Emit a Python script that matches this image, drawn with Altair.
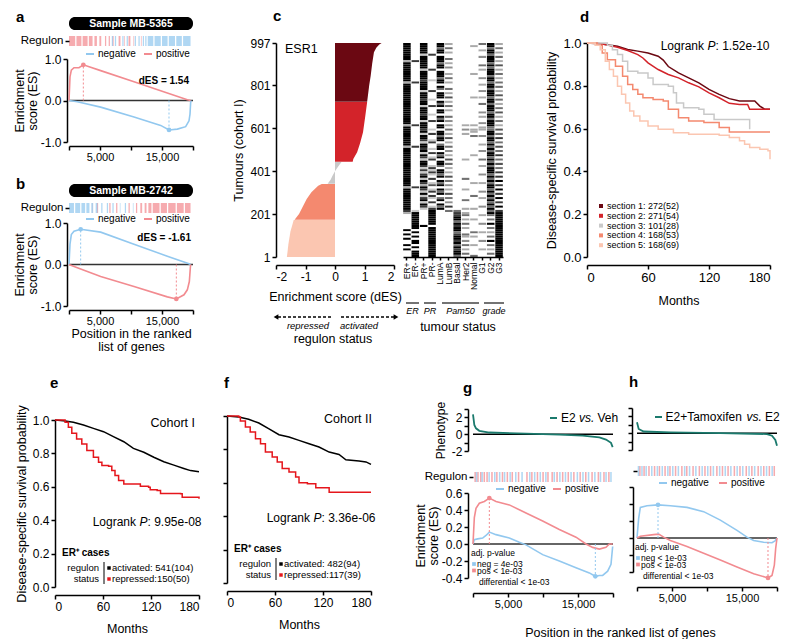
import altair as alt
import pandas as pd

FONT = "Liberation Sans"
RED = "#f28b90"
BLUE = "#92c8ef"
TEAL = "#1b7a6d"
KM_RED = "#e5161c"
SEC_NAMES = ["section 1: 272(52)", "section 2: 271(54)", "section 3: 101(28)",
             "section 4: 168(53)", "section 5: 168(69)"]
SEC_COLORS = ["#6b0812", "#d3232a", "#c9c9c9", "#f4896f", "#fbc6b1"]

# ---------------- panel a ----------------
a_neg_gene = [0, 1344, 5108, 10484, 14785, 16129, 17473, 18817, 19355, 19516, 19624, 19700]
a_neg_es = [0, -0.03, -0.16, -0.40, -0.60, -0.71, -0.69, -0.63, -0.49, -0.33, -0.04, 0.0]
a_pos_gene = [0, 161, 376, 806, 1613, 2312, 5108, 10484, 15860, 19086, 19624]
a_pos_es = [0, 0.57, 0.73, 0.79, 0.79, 0.86, 0.72, 0.45, 0.18, 0.02, 0.0]
a_neg_peak = (16129, -0.71)
a_pos_peak = (2312, 0.86)
a_strip_pos = [(0, 1.0), (1.2, 2.0), (2.2, 3.0), (3.2, 3.8), (4.1, 4.5), (4.9, 5.2), (5.8, 6.0),
               (6.4, 6.6), (7.0, 7.2), (8.0, 8.3), (8.9, 9.0), (9.6, 9.9), (10.4, 10.5), (11.6, 11.7)]
a_strip_neg = [(6.9, 7.1), (7.4, 7.6), (8.6, 8.8), (9.3, 9.5), (10.6, 10.8), (11.2, 11.4), (11.9, 12.1),
               (12.3, 12.5), (12.7, 13.6), (13.8, 14.8), (15.0, 15.9), (16.1, 17.1), (17.3, 18.2), (18.4, 19.6)]

# ---------------- panel b ----------------
b_neg_gene = [0, 161, 376, 806, 1882, 5108, 10484, 15860, 19355, 19624]
b_neg_es = [0, 0.49, 0.72, 0.80, 0.85, 0.78, 0.49, 0.20, 0.02, 0.0]
b_pos_gene = [0, 1344, 5108, 10484, 15860, 17312, 18548, 19086, 19409, 19570, 19624]
b_pos_es = [0, -0.08, -0.29, -0.53, -0.78, -0.83, -0.73, -0.61, -0.41, -0.08, 0.0]
b_neg_peak = (1882, 0.85)
b_pos_peak = (17312, -0.83)
b_strip_neg = [(0, 0.8), (1.0, 1.8), (2.0, 2.6), (2.8, 3.3), (3.6, 3.9), (4.3, 4.6), (5.2, 5.4),
               (6.1, 6.3), (7.0, 7.2), (8.2, 8.3), (9.0, 9.2), (10.3, 10.4)]
b_strip_pos = [(3.7, 3.8), (4.5, 4.7), (6.5, 6.7), (7.6, 7.8), (9.6, 9.8), (10.8, 11.0), (11.5, 11.8),
               (12.2, 12.5), (12.8, 13.3), (13.5, 14.6), (14.8, 15.8), (16.0, 17.2), (17.4, 18.5), (18.7, 19.6)]

# ---------------- panel c ----------------
c_sections = {
    SEC_NAMES[4]: ([1, 60, 120, 173], [-1.63, -1.58, -1.51, -1.40]),
    SEC_NAMES[3]: ([174, 201, 271, 302, 333, 341], [-1.37, -1.22, -0.96, -0.80, -0.57, -0.45]),
    SEC_NAMES[2]: ([342, 360, 380, 400, 410, 425, 443], [-0.25, -0.15, -0.08, 0.0, 0.05, 0.12, 0.22]),
    SEC_NAMES[1]: ([444, 457, 489, 530, 582, 650, 722], [0.60, 0.62, 0.75, 0.85, 0.95, 1.02, 1.09]),
    SEC_NAMES[0]: ([723, 800, 845, 900, 954, 975, 990, 997], [1.09, 1.16, 1.21, 1.26, 1.32, 1.40, 1.50, 1.58]),
}
HM_COLS = ["ER+", "ER-", "PR+", "PR-", "LumA", "LumB", "Basal", "Her2", "Normal", "G1", "G2", "G3"]
# shade per bin, top (tumour 997) to bottom (tumour 1); 0 white .. 9 black
HM = {
    "ER+": "99999999399999999939" "99999999999999999939" "99999999399999999999" "99999993999999999973" "00000009090900909000",
    "ER-": "00000000700000000070" "00000000000000000070" "00000000700000000000" "00000007000000000029" "99999990909099090999",
    "PR+": "99999299999929999799" "99299979929997992999" "79299729979297299727" "27929739729279297200" "00000900000000000000",
    "PR-": "00000700000070000200" "00700020070002007000" "20700270020702700272" "72070260270720702799" "99999099999999999999",
    "LumA": "99599099959909995990" "95099909590990959099" "09959905990959099509" "95909590959059095900" "00000000000000000000",
    "LumB": "30503005030400305030" "05030603050300504030" "50306030504030605030" "30605040306050407050" "00000000000000000000",
    "Basal": "00000000000000000000" "00000000000000000000" "00000000000000000000" "00000000000000000057" "79959799579979597995",
    "Her2": "00000000000000000000" "00000000000000000030" "40300000000000300000" "00050000300005000303" "50305030053040503050",
    "Normal": "03000000000000300000" "00000300000000000030" "33050000000030000000" "00000300000500000300" "00300000503000300005",
    "G1": "50030040005030004003" "00400300500040300403" "30040003004000500300" "04000300040030004000" "30004000300040003000",
    "G2": "99599599959599959959" "95999599599959959995" "59959959595995959599" "95959599595959595959" "50509050305090503050",
    "G3": "30503050306030503050" "50306050305060305030" "60507050605070506050" "70709070907090709079" "99999999999999999999",
}

# ---------------- panel d ----------------
d_curves = [
    (SEC_NAMES[0], [0, 15, 30, 40, 50, 60, 70, 75, 80, 90, 100, 110, 120, 130, 140, 150, 165, 170, 175, 180],
     [1.0, 0.995, 0.985, 0.97, 0.962, 0.953, 0.938, 0.92, 0.89, 0.86, 0.837, 0.814, 0.783, 0.76, 0.74, 0.729, 0.729, 0.705, 0.69, 0.69], "linear"),
    (SEC_NAMES[1], [0, 10, 20, 30, 40, 50, 55, 60, 70, 80, 90, 100, 110, 120, 130, 140, 150, 158, 160, 180],
     [1.0, 1.0, 0.99, 0.98, 0.965, 0.946, 0.93, 0.907, 0.876, 0.853, 0.837, 0.814, 0.795, 0.767, 0.744, 0.718, 0.713, 0.713, 0.69, 0.69], "linear"),
    (SEC_NAMES[2], [0, 20, 25, 30, 35, 40, 50, 60, 65, 80, 85, 88, 95, 110, 115, 125, 159, 160],
     [1.0, 0.99, 0.969, 0.946, 0.915, 0.868, 0.86, 0.837, 0.806, 0.798, 0.767, 0.72, 0.698, 0.69, 0.667, 0.643, 0.643, 0.597], "step-after"),
    (SEC_NAMES[3], [0, 10, 15, 20, 28, 35, 40, 45, 50, 55, 65, 75, 80, 90, 100, 115, 130, 140, 180],
     [1.0, 0.99, 0.953, 0.922, 0.891, 0.845, 0.806, 0.783, 0.76, 0.744, 0.736, 0.729, 0.69, 0.651, 0.636, 0.628, 0.605, 0.584, 0.584], "step-after"),
    (SEC_NAMES[4], [0, 8, 13, 18, 22, 26, 30, 34, 38, 42, 46, 52, 60, 70, 85, 100, 130, 140, 150, 155, 160, 170, 178, 180],
     [1.0, 0.99, 0.969, 0.915, 0.876, 0.845, 0.798, 0.76, 0.72, 0.682, 0.659, 0.636, 0.612, 0.597, 0.581, 0.574, 0.569, 0.558, 0.543, 0.527, 0.512, 0.504, 0.496, 0.457], "step-after"),
]

# ---------------- panels e, f ----------------
e_curves = [
    ("activated", [0, 10.5, 23, 35.6, 48, 60.7, 73, 86, 98, 111, 123.5, 136, 148.6, 161, 169.5, 180],
     [1.0, 0.996, 0.986, 0.97, 0.95, 0.93, 0.90, 0.87, 0.83, 0.807, 0.777, 0.75, 0.73, 0.71, 0.697, 0.69], "linear"),
    ("repressed", [0, 10.5, 12.6, 16.7, 21, 27, 33.5, 39.8, 48, 54.4, 58.6, 67, 71, 75, 79.5, 86, 102.6, 106.7, 117, 119, 127.7, 131.9, 157, 159, 180],
     [1.0, 1.0, 0.986, 0.956, 0.92, 0.886, 0.857, 0.817, 0.777, 0.747, 0.727, 0.723, 0.697, 0.667, 0.637, 0.617, 0.617, 0.603, 0.598, 0.582, 0.578, 0.56, 0.558, 0.538, 0.528], "step-after"),
]
f_curves = [
    ("activated", [0, 14.7, 27, 39.8, 52, 65, 77.5, 90, 102.6, 115, 127.7, 140, 148.6, 165, 173.7, 180],
     [1.0, 0.994, 0.98, 0.958, 0.924, 0.888, 0.874, 0.854, 0.834, 0.814, 0.784, 0.77, 0.738, 0.73, 0.725, 0.71], "linear"),
    ("repressed", [0, 14.7, 16.7, 23, 29, 35.6, 41.9, 48, 56.5, 62.8, 69, 77.5, 85.8, 90, 100.5, 111, 125.6, 127.7, 180],
     [1.0, 0.994, 0.97, 0.934, 0.904, 0.864, 0.834, 0.784, 0.754, 0.725, 0.685, 0.665, 0.635, 0.60, 0.595, 0.571, 0.571, 0.543, 0.543], "step-after"),
]
KM_COLORS = {"activated": "#000000", "repressed": KM_RED}

# ---------------- panels g, h ----------------
g_pos_gene = [0, 190, 429, 905, 1619, 2333, 3286, 5190, 7571, 9952, 12333, 14714, 16143, 17095, 18048, 19000, 19476, 19952]
g_pos_es = [0, 0.31, 0.42, 0.48, 0.50, 0.54, 0.50, 0.46, 0.365, 0.27, 0.17, 0.08, 0.0, -0.04, -0.06, -0.04, 0.0, 0.0]
g_neg_gene = [0, 190, 667, 1381, 1857, 2333, 3286, 5190, 6619, 7571, 9952, 12333, 14714, 16619, 17476, 18048, 18524, 19238, 19714, 19952]
g_neg_es = [0, 0.05, 0.06, 0.07, 0.10, 0.14, 0.11, 0.07, 0.02, -0.01, -0.125, -0.20, -0.28, -0.34, -0.38, -0.37, -0.37, -0.32, -0.24, -0.03]
g_pos_peak = (2333, 0.54)
g_neg_peak = (17476, -0.38)
g_ph_gene = [0, 190, 429, 905, 2333, 7571, 12333, 15667, 18048, 19000, 19714, 19952]
g_ph_val = [2.35, 1.1, 0.7, 0.4, 0.2, 0.06, -0.06, -0.17, -0.37, -0.64, -1.03, -1.53]
g_strip_pos = [0.2, 0.6, 1.0, 1.5, 1.9, 2.6, 3.3, 4.1, 4.8, 5.5, 6.4, 7.6, 8.3, 9.1, 9.9, 10.6, 11.2, 11.9,
               12.7, 13.5, 14.3, 15.2, 16.0, 16.9, 17.8, 18.6, 19.3]
g_strip_neg = [0.4, 1.2, 2.2, 3.0, 3.7, 4.4, 5.2, 6.0, 6.9, 8.0, 8.7, 9.5, 10.3, 11.5, 12.3, 13.1, 13.9,
               14.8, 15.6, 16.4, 17.3, 18.1, 18.9, 19.6]

h_neg_gene = [0, 238, 476, 1429, 3000, 4762, 7143, 9524, 11905, 14286, 15714, 16667, 18095, 19286, 19762, 20000]
h_neg_es = [0, 0.23, 0.36, 0.38, 0.39, 0.38, 0.36, 0.31, 0.21, 0.09, 0.01, -0.03, -0.05, -0.055, -0.03, 0.0]
h_pos_gene = [0, 476, 2381, 3095, 3810, 4762, 7143, 9524, 11905, 14286, 16667, 18714, 19286, 19619, 19810, 20000]
h_pos_es = [0, 0.02, 0.04, 0.045, 0.01, -0.03, -0.10, -0.18, -0.26, -0.34, -0.42, -0.47, -0.44, -0.32, -0.125, 0.0]
h_neg_peak = (3000, 0.39)
h_pos_peak = (18714, -0.47)
h_ph_gene = [0, 238, 952, 4762, 11905, 18571, 19286, 19762, 20000]
h_ph_val = [1.3, 0.5, 0.2, 0.1, 0.0, -0.1, -0.3, -0.8, -1.5]
h_strip_pos = [0.3, 0.9, 1.6, 2.4, 3.1, 3.9, 4.6, 5.4, 6.3, 7.0, 7.9, 8.8, 9.6, 10.4, 11.3, 12.1, 12.9,
               13.8, 14.6, 15.5, 16.3, 17.2, 18.0, 18.8, 19.5]
h_strip_neg = [0.1, 0.6, 1.2, 2.0, 2.8, 3.5, 4.3, 5.0, 5.8, 6.7, 7.4, 8.3, 9.2, 10.0, 10.8, 11.7, 12.5,
               13.3, 14.2, 15.0, 15.9, 16.7, 17.6, 18.4, 19.2]

MINUS_FIX = "replace(datum.label, '\u2212', '-')"


# ================= helpers =================
def tx(text, x, y, size=12, weight="normal", style="normal", align="left", baseline="middle", color="black"):
    return alt.Chart(pd.DataFrame({"t": [text]})).mark_text(
        font=FONT, fontSize=size, fontWeight=weight, fontStyle=style, align=align,
        baseline=baseline, color=color
    ).encode(text="t:N", x=alt.value(x), y=alt.value(y))


def hrule(x1, x2, y, color="black", width=1.0, dash=None):
    kw = dict(color=color, strokeWidth=width)
    if dash:
        kw["strokeDash"] = dash
    return alt.Chart(pd.DataFrame({"t": [0]})).mark_rule(**kw).encode(
        x=alt.value(x1), x2=alt.value(x2), y=alt.value(y))


def vrule(x, y1, y2, color="black", width=1.0):
    return alt.Chart(pd.DataFrame({"t": [0]})).mark_rule(color=color, strokeWidth=width).encode(
        x=alt.value(x), y=alt.value(y1), y2=alt.value(y2))


def square(x, y, color, size=14):
    return alt.Chart(pd.DataFrame({"t": [0]})).mark_square(color=color, size=size, opacity=1).encode(
        x=alt.value(x), y=alt.value(y))


def spacer(w, h, letter, lx, ly):
    return tx(letter, lx, ly, size=15, weight="bold", baseline="alphabetic").properties(width=w, height=h)


def header(text, letter, w=124, h=13):
    df = pd.DataFrame({"t": [text]})
    box = alt.Chart(df).mark_rect(color="black", cornerRadius=6).encode(
        x=alt.value(0), x2=alt.value(w), y=alt.value(0), y2=alt.value(h))
    lab = tx(text, w / 2, h / 2 + 0.5, size=10.5, weight="bold", align="center", color="white")
    let = tx(letter, -53, 5, size=15, weight="bold", baseline="alphabetic")
    return alt.layer(box, lab, let).properties(width=w, height=h)


def strip(pos, neg, w, show_label, seg=True, width_k=0.22):
    rows = []
    for clr, items in ((RED, pos), (BLUE, neg)):
        for it in items:
            s, e = (it if seg else (it, it + width_k))
            rows.append({"s": s * 1000, "e": e * 1000, "clr": clr, "lab": "Regulon"})
    return alt.Chart(pd.DataFrame(rows)).mark_rect(opacity=0.72).encode(
        x=alt.X("s:Q", scale=alt.Scale(domain=[0, 20000], nice=False), axis=None),
        x2="e:Q",
        y=alt.Y("lab:N", scale=alt.Scale(paddingInner=0, paddingOuter=0),
                axis=alt.Axis(title=None, labels=show_label, domain=False, ticks=True, tickSize=4,
                              labelFontSize=11.5, labelPadding=2)),
        color=alt.Color("clr:N", scale=None),
    ).properties(width=w, height=10)


def es_legend(bx, rx, y):
    return [hrule(bx, bx + 8, y, BLUE, 2), tx("negative", bx + 12, y, size=10),
            hrule(rx, rx + 8, y, RED, 2), tx("positive", rx + 12, y, size=10)]


def es_layers(neg_g, neg_v, pos_g, pos_v, neg_pk, pos_pk, ydom, yvals, show_labels, ytitle, xtitle, xoff, yoff):
    xs = alt.Scale(domain=[0, 20000], nice=False)
    ys = alt.Scale(domain=ydom, nice=False)
    xax = alt.Axis(values=[0, 5000, 10000, 15000, 20000],
                   labelExpr="(datum.value == 5000 || datum.value == 15000) ? format(datum.value, ',') : ''",
                   title=xtitle, offset=xoff, labelFontSize=11, titleFontSize=12.5, labelPadding=1,
                   titlePadding=1, titleLineHeight=13)
    yax = alt.Axis(values=yvals, format=".1f", labelExpr=MINUS_FIX, labels=show_labels, title=ytitle,
                   offset=yoff, labelFontSize=12, titleFontSize=12.5, titleLineHeight=13, titlePadding=1,
                   labelPadding=2)
    col = alt.Color("clr:N", scale=None)
    df = pd.DataFrame({"clr": [BLUE] * len(neg_g) + [RED] * len(pos_g),
                       "gene": neg_g + pos_g, "es": neg_v + pos_v})
    pk = pd.DataFrame({"clr": [BLUE, RED], "gene": [neg_pk[0], pos_pk[0]],
                       "es": [neg_pk[1], pos_pk[1]], "zero": [0, 0]})
    zero = alt.Chart(pd.DataFrame({"z": [0]})).mark_rule(color="#333333", strokeWidth=1.5).encode(
        y=alt.Y("z:Q", scale=ys, axis=yax))
    lines = alt.Chart(df).mark_line(strokeWidth=1.6).encode(
        x=alt.X("gene:Q", scale=xs, axis=xax), y=alt.Y("es:Q", scale=ys, axis=yax), color=col)
    rules = alt.Chart(pk).mark_rule(strokeDash=[2, 2], strokeWidth=1).encode(
        x=alt.X("gene:Q", scale=xs, axis=xax), y=alt.Y("zero:Q", scale=ys, axis=yax), y2="es:Q", color=col)
    dots = alt.Chart(pk).mark_point(filled=True, size=22, opacity=1).encode(
        x=alt.X("gene:Q", scale=xs, axis=xax), y=alt.Y("es:Q", scale=ys, axis=yax), color=col)
    return [zero, lines, rules, dots]


def km_layers(curves, colors, ylabels, ytitle, lab_size=12):
    xs = alt.Scale(domain=[0, 180], nice=False)
    ys = alt.Scale(domain=[0, 1], nice=False)
    xax = alt.Axis(values=[0, 60, 120, 180], title="Months", offset=8, labelFontSize=lab_size,
                   titleFontSize=12.5, titlePadding=10)
    yax = alt.Axis(values=[0, 0.2, 0.4, 0.6, 0.8, 1.0], format=".1f", labels=ylabels, title=ytitle,
                   labelFontSize=lab_size, titleFontSize=12.5)
    layers = []
    for name, m, s, interp in curves:
        df = pd.DataFrame({"clr": [colors[name]] * len(m), "m": m, "s": s})
        layers.append(alt.Chart(df).mark_line(interpolate=interp, strokeWidth=1.5).encode(
            x=alt.X("m:Q", scale=xs, axis=xax), y=alt.Y("s:Q", scale=ys, axis=yax),
            color=alt.Color("clr:N", scale=None)))
    return layers


def logrank(val, lr_right, y):
    return [tx("Logrank", lr_right, y, align="right"),
            tx("P", lr_right + 3.5, y, style="italic"),
            tx(": " + val, lr_right + 11.5, y)]


# ================= panel a / b =================
a_plot = alt.layer(
    *es_layers(a_neg_gene, a_neg_es, a_pos_gene, a_pos_es, a_neg_peak, a_pos_peak, [-1, 1], [-1, 0, 1], True,
               ["Enrichment", "score (ES)"], None, 4, 2),
    *es_legend(17, 75, -5),
    tx("dES = 1.54", 120, 22, size=10, weight="bold", align="right"),
).properties(width=124, height=83)

b_plot = alt.layer(
    *es_layers(b_neg_gene, b_neg_es, b_pos_gene, b_pos_es, b_neg_peak, b_pos_peak, [-1, 1], [-1, 0, 1], True,
               ["Enrichment", "score (ES)"], ["Position in the ranked", "list of genes"], 4, 2),
    *es_legend(17, 75, -4),
    tx("dES = -1.61", 122, 15, size=10, weight="bold", align="right"),
).properties(width=124, height=83)

a_grp = alt.vconcat(alt.vconcat(header("Sample MB-5365", "a"), strip(a_strip_pos, a_strip_neg, 124, True),
                                spacing=4), a_plot, spacing=3)
b_grp = alt.vconcat(alt.vconcat(header("Sample MB-2742", "b"), strip(b_strip_pos, b_strip_neg, 124, True),
                                spacing=4), b_plot, spacing=1)
AB = alt.vconcat(a_grp, b_grp, spacing=15)

# ================= panel c =================
c_y = alt.Y("rank:Q", scale=alt.Scale(domain=[1, 997], nice=False),
            axis=alt.Axis(values=[1, 201, 401, 601, 801, 997], title="Tumours (cohort I)", labelFontSize=12,
                          titleFontSize=12.5))
c_x = alt.X("des:Q", stack=None, scale=alt.Scale(domain=[-2, 2], nice=False),
            axis=alt.Axis(values=[-2, -1, 0, 1, 2], labelExpr=MINUS_FIX, title="Enrichment score (dES)",
                          offset=8, labelFontSize=12, titleFontSize=12.5, titlePadding=8))
c_areas = []
for sec, clr in zip(SEC_NAMES, SEC_COLORS):
    rk, ds = c_sections[sec]
    df = pd.DataFrame({"rank": rk, "des": ds})
    c_areas.append(alt.Chart(df).mark_area(orient="horizontal", color=clr, opacity=1).encode(x=c_x, y=c_y))

c_bar = alt.layer(
    *c_areas,
    tx("ESR1", 9, 6, size=12.5),
    hrule(2, 55, 274, "black", 1.3, [3, 2]),
    alt.Chart(pd.DataFrame({"t": [0]})).mark_point(shape="triangle-left", filled=True, size=30, color="black",
                                                   opacity=1).encode(x=alt.value(0), y=alt.value(274)),
    hrule(65, 118, 274, "black", 1.3, [3, 2]),
    alt.Chart(pd.DataFrame({"t": [0]})).mark_point(shape="triangle-right", filled=True, size=30, color="black",
                                                   opacity=1).encode(x=alt.value(120), y=alt.value(274)),
    tx("repressed", 32, 283, size=9.5, style="italic", align="center"),
    tx("activated", 83, 283, size=9.5, style="italic", align="center"),
    tx("regulon status", 57, 296, size=12.5, align="center"),
).properties(width=118, height=214)

hm_rows = []
for col in HM_COLS:
    s = HM[col]
    n = len(s)
    step = 997.0 / n
    for k, ch in enumerate(s):
        hi = 997.5 - k * step
        g = int(round(255 - int(ch) / 9 * 255))
        hm_rows.append({"col": col, "hi": hi, "lo": hi - step, "clr": "#%02x%02x%02x" % (g, g, g)})
c_heat_rect = alt.Chart(pd.DataFrame(hm_rows)).mark_rect().encode(
    x=alt.X("col:N", sort=HM_COLS, scale=alt.Scale(paddingInner=0.1, paddingOuter=0.02),
            axis=alt.Axis(title=None, labelAngle=-90, labelFontSize=8.5, tickSize=3, labelPadding=2)),
    y=alt.Y("lo:Q", scale=alt.Scale(domain=[0.5, 997.5], nice=False), axis=None),
    y2="hi:Q",
    color=alt.Color("clr:N", scale=None),
)
c_heat = alt.layer(
    c_heat_rect,
    hrule(3, 16, 260, "#444444", 1.5), tx("ER", 9.5, 268, size=9, style="italic", align="center"),
    hrule(21, 33, 260, "#444444", 1.5), tx("PR", 27, 268, size=9, style="italic", align="center"),
    hrule(39, 76, 260, "#444444", 1.5), tx("Pam50", 57.5, 268, size=9, style="italic", align="center"),
    hrule(81, 101, 260, "#444444", 1.5), tx("grade", 91, 268, size=9, style="italic", align="center"),
    tx("tumour status", 55, 284, size=12.5, align="center"),
).properties(width=100, height=214)

c_grp = alt.vconcat(spacer(118, 20, "c", -3, 4),
                    alt.hconcat(c_bar, c_heat, spacing=0), spacing=0)

# ================= panel d =================
d_leg = []
for i, (nm, cl) in enumerate(zip(SEC_NAMES, SEC_COLORS)):
    yy = 163 + i * 9.8
    d_leg += [square(14, yy, cl, 16), tx(nm, 20, yy, size=9)]
d_plot = alt.layer(
    *km_layers(d_curves, dict(zip(SEC_NAMES, SEC_COLORS)), True, "Disease-specific survival probability", 13),
    *logrank("1.52e-10", 117, 3),
    *d_leg,
).properties(width=183, height=214)
d_grp = alt.vconcat(spacer(183, 20, "d", -7, 5), d_plot, spacing=0)

blank = tx(" ", 0, 0).properties(width=1, height=1)
top = alt.hconcat(alt.hconcat(alt.hconcat(blank, AB, spacing=-43), c_grp, spacing=37), d_grp, spacing=39)


# ================= panels e / f =================
def km_annot(cohort, cohort_x, lr_val, lr_right, act, rep):
    return [tx(cohort, cohort_x, 3, size=12.5, align="right"),
            *logrank(lr_val, lr_right, 102),
            tx("ER⁺ cases", 7, 133, size=10, weight="bold"),
            tx("regulon", 44, 148, size=9.5, align="right"),
            tx("status", 44, 159, size=9.5, align="right"),
            vrule(49, 142, 164, "black", 1),
            square(54, 148, "black", 12), tx(act, 57, 148, size=9.5),
            square(54, 159, KM_RED, 12), tx(rep, 57, 159, size=9.5)]


e_plot = alt.layer(
    *km_layers(e_curves, KM_COLORS, True, "Disease-specific survival probability"),
    *km_annot("Cohort I", 140, "9.95e-08", 81, "activated: 541(104)", "repressed:150(50)"),
).properties(width=144, height=167)
f_plot = alt.layer(
    *km_layers(f_curves, KM_COLORS, False, None),
    *km_annot("Cohort II", 145, "3.36e-06", 83, "activated: 482(94)", "repressed:117(39)"),
).properties(width=144, height=167)
e_col = alt.vconcat(spacer(144, 32, "e", -5, 16), e_plot, spacing=0)
f_col = alt.vconcat(spacer(144, 41, "f", -3, 16), f_plot, spacing=0)


# ================= panels g / h =================
def pheno(genes, vals, labels, leg_layers):
    ys = alt.Scale(domain=[-2, 3], nice=False)
    yax = alt.Axis(values=[-2, -1, 0, 1, 2, 3], labels=labels,
                   labelExpr="(datum.value == 0 || datum.value == 2 || datum.value == -2) ? "
                             "replace(datum.label, '\u2212', '-') : ''",
                   title="Phenotype" if labels else None, offset=5, labelFontSize=12, titleFontSize=12)
    df = pd.DataFrame({"g": genes, "v": vals})
    zero = alt.Chart(pd.DataFrame({"z": [0]})).mark_rule(color="black", strokeWidth=1.5).encode(
        y=alt.Y("z:Q", scale=ys, axis=yax))
    line = alt.Chart(df).mark_line(color=TEAL, strokeWidth=1.8).encode(
        x=alt.X("g:Q", scale=alt.Scale(domain=[0, 20000], nice=False), axis=None),
        y=alt.Y("v:Q", scale=ys, axis=yax))
    return alt.layer(zero, line, *leg_layers).properties(width=140, height=42)


def pval_text(lines_):
    out = [tx("adj. p-value", -2, 60, size=8.5)]
    out += [square(1, 71, BLUE, 14), tx(lines_[0], 4, 71, size=8.5),
            square(1, 77.5, RED, 14), tx(lines_[1], 4, 77.5, size=8.5),
            tx("differential < 1e-03", 6, 89, size=8.5)]
    return out


g_ph = pheno(g_ph_gene, g_ph_val, True,
             [hrule(77, 84, 9, TEAL, 2), tx("E2", 88, 9, size=12), tx("vs.", 106, 9, size=12, style="italic"),
              tx("Veh", 124.5, 9, size=12)])
h_ph = pheno(h_ph_gene, h_ph_val, False,
             [hrule(18, 25, 9, TEAL, 2), tx("E2+Tamoxifen", 28.5, 9, size=12),
              tx("vs.", 109.5, 9, size=12, style="italic"), tx("E2", 128, 9, size=12)])

g_es = alt.layer(
    *es_layers(g_neg_gene, g_neg_es, g_pos_gene, g_pos_es, g_neg_peak, g_pos_peak, [-0.4, 0.6],
               [-0.4, -0.2, 0, 0.2, 0.4, 0.6], True, ["Enrichment", "score (ES)"], None, 15, 5),
    *es_legend(23, 80, -4),
    *pval_text(["neg = 4e-03", "pos < 1e-03"]),
).properties(width=140, height=85)
h_es = alt.layer(
    *es_layers(h_neg_gene, h_neg_es, h_pos_gene, h_pos_es, h_neg_peak, h_pos_peak, [-0.4, 0.6],
               [-0.4, -0.2, 0, 0.2, 0.4, 0.6], False, None, None, 15, 4),
    *es_legend(22, 82, -4),
    *pval_text(["neg < 1e-03", "pos < 1e-03"]),
).properties(width=140, height=85)

g_col = alt.vconcat(spacer(140, 29, "g", -10, 21),
                    alt.vconcat(alt.vconcat(g_ph, strip(g_strip_pos, g_strip_neg, 140, True, seg=False),
                                            spacing=11), g_es, spacing=2),
                    spacing=0)
h_col = alt.vconcat(spacer(140, 35, "h", -8, 15),
                    alt.vconcat(alt.vconcat(h_ph, strip(h_strip_pos, h_strip_neg, 140, False, seg=False),
                                            spacing=15), h_es, spacing=2),
                    spacing=0)

gh = alt.hconcat(g_col, h_col, spacing=8).properties(
    title=alt.TitleParams("Position in the ranked list of genes", orient="bottom", anchor="middle",
                          fontSize=12.5, fontWeight="normal", dx=23, offset=18, font=FONT))
bottom = alt.hconcat(alt.hconcat(e_col, f_col, spacing=20), gh, spacing=38)

chart = alt.vconcat(top, bottom, spacing=19).configure(
    font=FONT, padding={"left": 5, "top": 1, "right": 5, "bottom": 2}
).configure_view(stroke=None).configure_axis(
    grid=False, domainColor="black", tickColor="black", labelColor="black", titleColor="black",
    domainWidth=1.5, tickWidth=1.5, tickSize=4, titleFontWeight="normal", labelFont=FONT, titleFont=FONT
)

chart.save("out.html", embed_options={"renderer": "svg", "actions": False})
